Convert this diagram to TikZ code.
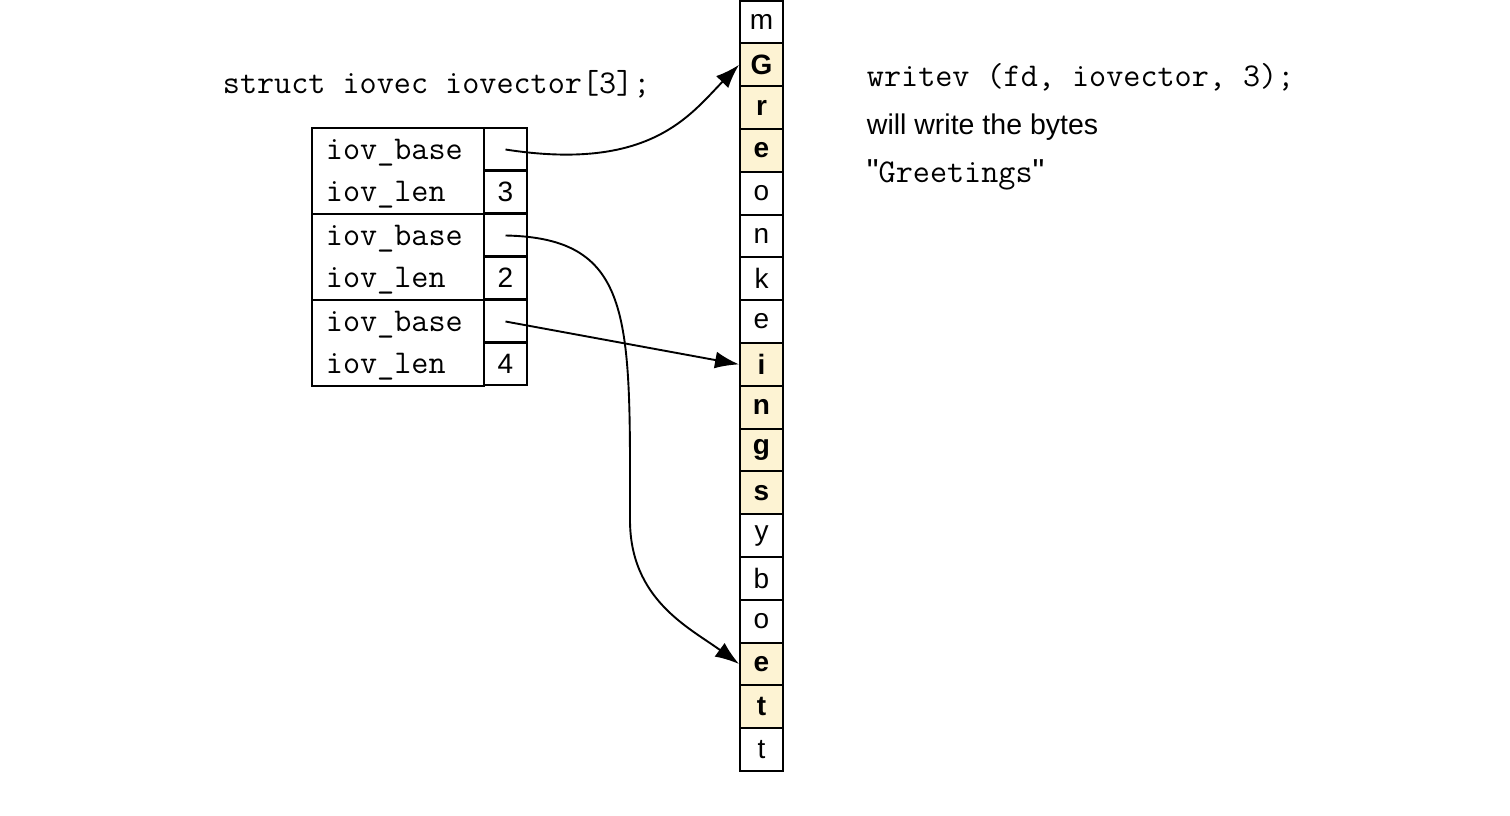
\documentclass[tikz,border=0pt]{standalone}
\usepackage{fontspec}
\setmainfont{Liberation Sans}
\setsansfont{Liberation Sans}
\usetikzlibrary{arrows.meta}
\definecolor{picked}{RGB}{253,243,211}

\begin{document}
\begin{tikzpicture}[x=1pt,y=-1pt,
	line width=1.9pt,
	code/.style={inner sep=0pt,font=\fontsize{33.2}{38}\selectfont\ttfamily},
	prose/.style={inner sep=0pt,font=\fontsize{28.5}{34}\selectfont\sffamily},
	slot/.style={draw,inner sep=0pt,minimum width=43pt,minimum height=43pt,font=\fontsize{28}{32}\selectfont},
	byte0/.style={draw,inner sep=0pt,minimum width=43pt,minimum height=42.8pt,font=\fontsize{28}{32}\selectfont},
	byte1/.style={byte0,fill=picked,font=\fontsize{28}{32}\selectfont\bfseries},
	ptr/.style={line width=1.9pt,-{Latex[length=24pt,width=17pt]}}]
		\useasboundingbox (0,0) rectangle (1510,816);
		% the bytes in memory
		\foreach \ch/\hl [count=\i from 0] in {m/0,G/1,r/1,e/1,o/0,n/0,k/0,e/0,i/1,n/1,g/1,s/1,y/0,b/0,o/0,e/1,t/1,t/0}
			\node[byte\hl] (c\i) at (761.5,{22+42.8*\i}) {\ch};
		% the iovec array
		\node[code,anchor=base west] (decl) at (222,93) {struct iovec iovector[3];};
		\foreach \len [count=\k] in {3,2,4} {
			\pgfmathsetmacro\top{128+86*(\k-1)}
			\node[draw,minimum width=172pt,minimum height=86pt,inner sep=0pt] (g\k) at (398,\top+43) {};
			\node[slot] (b\k) at (505.5,\top+21.5) {};
			\node[slot] (l\k) at (505.5,\top+63.5) {\len};
			\node[code,anchor=base west] (nb\k) at (325,\top+31.5) {iov\_base};
			\node[code,anchor=base west] (nl\k) at (325,\top+73.5) {iov\_len};
		}
		% the call
		\node[code,anchor=base west] (call) at (866,86) {writev (fd, iovector, 3);};
		\node[prose,anchor=base west] (says) at (866,134) {will write the bytes};
		\node[code,anchor=base west] (word) at (866,182) {{\sffamily\textquotedbl}Greetings{\sffamily\textquotedbl}};
		% pointers
		\draw[ptr] (b1.center) .. controls (650,172) and (690,115) .. (c1.west);
		\draw[ptr] (b2.center) .. controls (635,238) and (630,320) .. (630,520)
			.. controls (630,600) and (690,628) .. (c15.west);
		\draw[ptr] (b3.center) -- (c8.west);
		%\draw (b1.center) -- (c1.west);
\end{tikzpicture}
\end{document}
